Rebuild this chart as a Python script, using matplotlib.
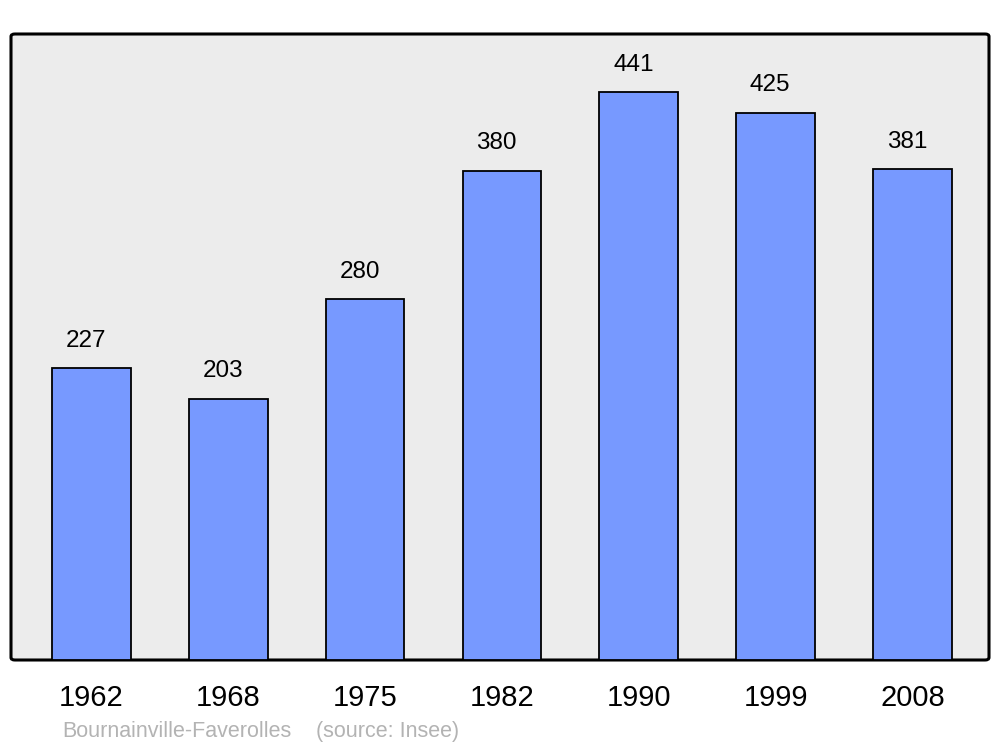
import matplotlib
matplotlib.use("Agg")
import matplotlib.pyplot as plt
from matplotlib.patches import FancyBboxPatch

years = ["1962", "1968", "1975", "1982", "1990", "1999", "2008"]
population = [227, 203, 280, 380, 441, 425, 381]
place = "Bournainville-Faverolles"
source = "(source: Insee)"

plt.rcParams['font.family'] = ['Liberation Sans', 'DejaVu Sans']

fig = plt.figure(figsize=(10, 7.47), dpi=100)
ax = fig.add_axes([0.011, 1 - 660 / 747, 0.978, (660 - 34) / 747])
ax.set_xlim(-0.588, 6.559)
ax.set_ylim(0, 486)
ax.set_facecolor('none')
for s in ax.spines.values():
    s.set_visible(False)

bg = FancyBboxPatch((0, 0), 1, 1, boxstyle="round,pad=0,rounding_size=0.004",
                    transform=ax.transAxes, facecolor='#ececec', edgecolor='black',
                    linewidth=2.2, zorder=0, clip_on=False)
ax.add_patch(bg)

x = list(range(len(years)))
ax.bar(x, population, width=0.575, color='#7799ff', edgecolor='black',
       linewidth=1.3, zorder=2)
for xi, v in zip(x, population):
    ax.annotate(str(v), (xi, v), xytext=(-4, 19.5), textcoords='offset points',
                ha='center', va='center', fontsize=17.5, color='black')

ax.set_xticks(x)
ax.set_xticklabels(years, fontsize=21)
ax.tick_params(axis='x', length=0, pad=17)
ax.set_yticks([])

fig.text(0.062, 1 - 737 / 747, place, fontsize=15.5, color='#b3b3b3',
         ha='left', va='baseline')
fig.text(0.316, 1 - 737 / 747, source, fontsize=15.5, color='#b3b3b3',
         ha='left', va='baseline')

fig.savefig("out.png", dpi=100)
